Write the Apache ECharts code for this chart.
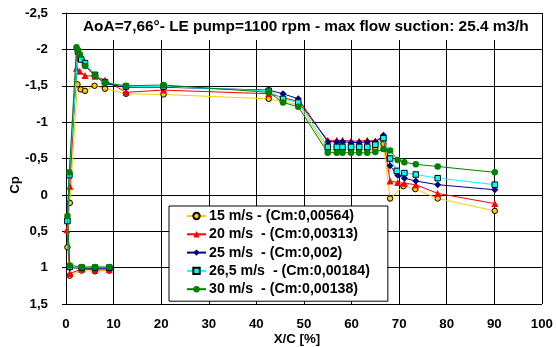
<!DOCTYPE html>
<html><head><meta charset="utf-8">
<script src="https://cdn.jsdelivr.net/npm/echarts/dist/echarts.min.js"></script>
<style>html,body{margin:0;padding:0;background:#fff}#c{width:556px;height:347px}</style>
</head><body><div id="c"></div>
<script>
var titleText = 'AoA=7,66°- LE pump=1100 rpm - max flow suction: 25.4 m3/h';
var xName = 'X/C [%]';
var yName = 'Cp';
var seriesNames = ['15 m/s - (Cm:0,00564)', '20 m/s  - (Cm:0,00313)', '25 m/s  - (Cm:0,002)', '26,5 m/s  - (Cm:0,00184)', '30 m/s  - (Cm:0,00138)'];

var s15 = [[9.1,1.04],[6.1,1.05],[3.3,1.04],[0.8,1.11],[0.3,0.72],[0.8,0.11],[2.4,-1.52],[3.1,-1.45],[4.0,-1.43],[6.0,-1.50],[8.2,-1.46],[12.6,-1.39],[20.5,-1.38],[42.6,-1.32],[45.6,-1.28],[48.8,-1.24],[55,-0.62],[56.9,-0.62],[58.1,-0.62],[59.9,-0.62],[61.6,-0.62],[63.3,-0.62],[65,-0.63],[66.7,-0.70],[68.1,0.05],[70.9,-0.12],[73.4,-0.08],[78.1,0.05],[90.1,0.22]];
var s20 = [[9.1,1.03],[6.1,1.03],[3.3,1.02],[0.8,1.08],[0.2,0.48],[0.8,-0.12],[2.2,-1.74],[2.9,-1.70],[4.0,-1.64],[6.1,-1.63],[8.2,-1.58],[12.6,-1.41],[20.5,-1.44],[42.6,-1.39],[45.6,-1.34],[48.8,-1.28],[55,-0.75],[56.9,-0.75],[58.1,-0.75],[59.9,-0.74],[61.6,-0.74],[63.3,-0.75],[65,-0.74],[66.7,-0.78],[68.1,-0.19],[69.7,-0.17],[71.1,-0.16],[73.5,-0.14],[78.1,-0.02],[90.1,0.12]];
var s25 = [[9.1,1.01],[6.1,1.01],[3.3,1.01],[0.8,1.0],[0.3,0.33],[0.7,-0.28],[2.5,-1.98],[2.9,-1.90],[3.6,-1.84],[4.0,-1.78],[6.1,-1.64],[8.2,-1.53],[12.6,-1.48],[20.5,-1.48],[42.6,-1.44],[45.6,-1.39],[48.8,-1.32],[55,-0.73],[56.9,-0.73],[58.1,-0.73],[59.9,-0.72],[61.6,-0.72],[63.3,-0.73],[65,-0.73],[66.7,-0.82],[68.1,-0.40],[69.7,-0.27],[71.1,-0.23],[73.5,-0.19],[78.1,-0.14],[90.1,-0.07]];
var s265 = [[9.1,1.0],[6.1,1.0],[3.3,1.0],[0.8,0.99],[0.3,0.36],[0.7,-0.27],[2.5,-1.97],[2.9,-1.88],[3.2,-1.86],[4.0,-1.81],[6.1,-1.65],[8.2,-1.55],[12.6,-1.49],[20.5,-1.49],[42.6,-1.43],[45.6,-1.32],[48.8,-1.27],[55,-0.66],[56.9,-0.66],[58.1,-0.66],[59.9,-0.66],[61.6,-0.66],[63.3,-0.66],[65,-0.69],[66.7,-0.78],[68.1,-0.50],[69.5,-0.33],[71.1,-0.30],[73.5,-0.28],[78.1,-0.23],[90.1,-0.14]];
var s30 = [[9.1,0.99],[6.1,0.99],[3.3,0.99],[0.8,0.97],[0.3,0.29],[0.7,-0.31],[2.2,-2.03],[2.5,-1.99],[2.9,-1.93],[4.0,-1.77],[6.1,-1.64],[8.2,-1.54],[12.6,-1.50],[20.5,-1.51],[42.6,-1.41],[45.6,-1.27],[48.8,-1.21],[55,-0.58],[56.9,-0.58],[58.1,-0.58],[59.9,-0.58],[61.6,-0.58],[63.3,-0.58],[65,-0.59],[66.7,-0.63],[68.1,-0.61],[69.7,-0.48],[71.1,-0.45],[73.5,-0.42],[78.1,-0.39],[90.1,-0.31]];

var FONT = '"Liberation Sans", Arial, sans-serif';
var FS = 13.3;

var styles = [
  {data: s15, color: '#FFCC00', symbol: 'circle', size: 5.5, border: '#000', bw: 1},
  {data: s20, color: '#FF0000', symbol: 'triangle', size: 7, border: '#FF0000', bw: 0},
  {data: s25, color: '#000080', symbol: 'diamond', size: 7, border: '#000080', bw: 0},
  {data: s265, color: '#00FFFF', symbol: 'rect', size: 5.5, border: '#000', bw: 1},
  {data: s30, color: '#008000', symbol: 'circle', size: 6.5, border: '#008000', bw: 0}
];

var series = styles.map(function (s, i) {
  return {
    name: seriesNames[i], type: 'line', data: s.data,
    symbol: s.symbol, symbolSize: s.size, showAllSymbol: true,
    lineStyle: {color: s.color, width: 1},
    itemStyle: {color: s.color, borderColor: s.border, borderWidth: s.bw},
    emphasis: {disabled: true}, animation: false, z: 3 + i
  };
});

var chart = echarts.init(document.getElementById('c'), null, {renderer: 'canvas'});
chart.setOption({
  animation: false,
  backgroundColor: '#fff',
  grid: {left: 66, right: 13, top: 13, bottom: 43, containLabel: false},
  xAxis: {type: 'value', min: 0, max: 100, interval: 10,
    axisLine: {show: true, lineStyle: {color: '#000', width: 1}},
    axisTick: {show: false},
    axisLabel: {fontFamily: FONT, fontSize: FS, fontWeight: 'bold', color: '#000', margin: 14},
    splitLine: {show: true, lineStyle: {color: '#000', width: 1}}},
  yAxis: {type: 'value', min: -2.5, max: 1.5, interval: 0.5, inverse: true,
    axisLine: {show: true, onZero: false, lineStyle: {color: '#000', width: 1}},
    axisTick: {show: true, inside: false, length: 4, lineStyle: {color: '#000'}},
    axisLabel: {fontFamily: FONT, fontSize: FS, fontWeight: 'bold', color: '#000', margin: 18,
      formatter: function (v) { return String(v).replace('.', ','); }},
    splitLine: {show: true, lineStyle: {color: '#000', width: 1}}},
  legend: {orient: 'vertical', left: 169, top: 206, padding: [3, 18, 5, 17],
    itemWidth: 19, itemHeight: 8, itemGap: 4.3,
    backgroundColor: '#fff', borderColor: '#000', borderWidth: 1,
    textStyle: {fontFamily: FONT, fontSize: 14.2, fontWeight: 'bold', color: '#000', padding: [0, 0, 0, -2]},
    data: seriesNames, selectedMode: false},
  graphic: [
    {type: 'rect', z: 99, shape: {x: 67, y: 14, width: 474, height: 26}, style: {fill: '#fff'}},
    {type: 'text', x: 83, y: 27, z: 100,
      style: {text: titleText, font: 'bold 15.4px ' + FONT, fill: '#000', align: 'left', verticalAlign: 'middle'}},
    {type: 'text', x: 297, y: 339, z: 100,
      style: {text: xName, font: 'bold 13.3px ' + FONT, fill: '#000', align: 'center', verticalAlign: 'middle'}},
    {type: 'text', x: 15, y: 185, rotation: Math.PI / 2, z: 100,
      style: {text: yName, font: 'bold 13.3px ' + FONT, fill: '#000', align: 'center', verticalAlign: 'middle'}}
  ],
  series: series
});
</script></body></html>
